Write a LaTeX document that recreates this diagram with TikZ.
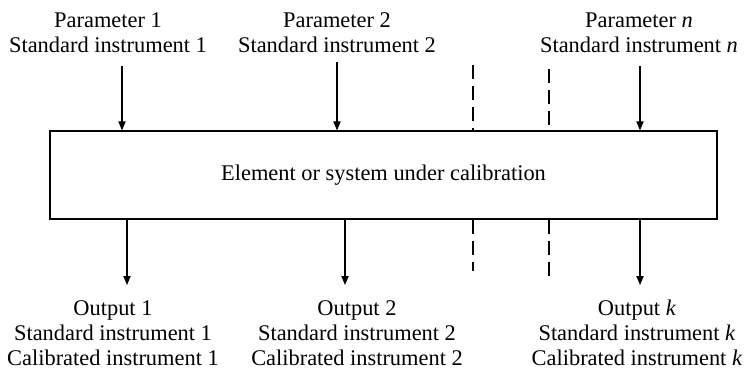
\documentclass[tikz,border=0pt]{standalone}
\usepackage{fontspec}
\setmainfont{Liberation Serif}
\usetikzlibrary{arrows.meta}
\begin{document}
\begin{tikzpicture}[x=0.5pt,y=-0.5pt,
  lbl/.style={align=center,inner sep=0pt,font=\fontsize{11.2}{12.5}\selectfont},
  arr/.style={line width=0.6pt,-{Triangle[length=4.5pt,width=3.6pt]}},
  gap/.style={line width=0.6pt,dash pattern=on 7pt off 3.5pt}]
\useasboundingbox (0,0) rectangle (747,368);
% central block
\node[draw,line width=0.6pt,minimum width=333.5pt,minimum height=44pt,inner sep=0pt,
      font=\fontsize{11.2}{12.5}\selectfont] (box) at (383.5,175) {Element or system under calibration};
% inputs
\node[lbl] (p1) at (108,32.5) {Parameter 1\\Standard instrument 1};
\node[lbl] (p2) at (337,32.5) {Parameter 2\\Standard instrument 2};
\node[lbl] (pn) at (639,32.5) {Parameter \textit{n}\\Standard instrument \textit{n}};
% outputs
\node[lbl] (o1) at (113,333) {Output 1\\Standard instrument 1\\Calibrated instrument 1};
\node[lbl] (o2) at (357,333) {Output 2\\Standard instrument 2\\Calibrated instrument 2};
\node[lbl] (ok) at (637,333) {Output \textit{k}\\Standard instrument \textit{k}\\Calibrated instrument \textit{k}};
% arrow start points
\coordinate (i1) at (122,66);
\coordinate (i2) at (337,62);
\coordinate (in) at (640,66);
\coordinate (e1) at (127,285);
\coordinate (e2) at (345,285);
\coordinate (ek) at (640,285);
\draw[arr] (i1) -- (i1 |- box.north);
\draw[arr] (i2) -- (i2 |- box.north);
\draw[arr] (in) -- (in |- box.north);
\draw[arr] (e1 |- box.south) -- (e1);
\draw[arr] (e2 |- box.south) -- (e2);
\draw[arr] (ek |- box.south) -- (ek);
% dashed lines marking the omitted channels
\coordinate (da) at (473,65);
\coordinate (db) at (549,69);
\coordinate (dc) at (473,271);
\coordinate (dd) at (549,277);
\draw[gap] (da) -- (da |- box.north);
\draw[gap] (db) -- (db |- box.north);
\draw[gap] (dc |- box.south) -- (dc);
\draw[gap] (dd |- box.south) -- (dd);
\end{tikzpicture}
\end{document}
